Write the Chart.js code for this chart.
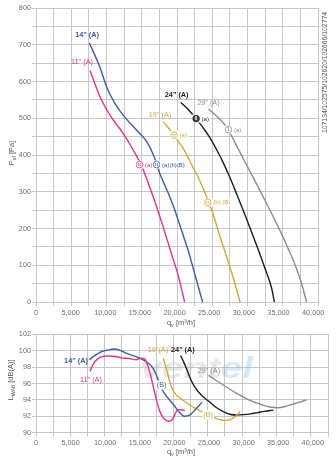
<!DOCTYPE html>
<html>
<head>
<meta charset="utf-8">
<title>Fan curves</title>
<script src="https://cdn.jsdelivr.net/npm/chart.js"></script>
<style>
    body { margin: 0; background: #fff; width: 336px; height: 459px; overflow: hidden; position: relative; }
    canvas { position: absolute; left: 0; }
    #pressureChart { top: 0; }
    #soundChart { top: 328px; }
</style>
</head>
<body>
<canvas id="pressureChart" width="336" height="328"></canvas>
<canvas id="soundChart" width="336" height="131"></canvas>

<script>
// pressure curves, q in m3/h, p in Pa
const flow11 = [7800, 9200, 10700, 12600, 14500, 15300, 16500, 17500, 18500, 19500, 20500, 21450];
const pressure11 = [630, 560, 508, 458, 398, 368, 308, 254, 196, 134, 74, 0];
const flow14 = [7700, 9200, 10200, 11400, 12600, 14500, 16000, 17000, 17900, 19000, 20000, 21000, 22000, 23000, 24050];
const pressure14 = [705, 640, 585, 540, 508, 468, 436, 398, 348, 300, 252, 195, 138, 70, 0];
const flow19 = [18400, 19500, 20500, 21500, 22500, 23500, 24500, 25500, 26500, 27500, 28500, 29450];
const pressure19 = [490, 465, 438, 410, 372, 336, 292, 242, 181, 124, 64, 0];
const flow24 = [20900, 22000, 23100, 24000, 25000, 26000, 27000, 28000, 29000, 30000, 31000, 32000, 33000, 34000, 34400];
const pressure24 = [543, 523, 499, 477, 450, 417, 380, 338, 292, 245, 196, 146, 94, 38, 0];
const flow29 = [24900, 26000, 27000, 27800, 28500, 29500, 30500, 31500, 32500, 33500, 34500, 35500, 36500, 37500, 38300, 39050];
const pressure29 = [525, 507, 488, 468, 442, 405, 369, 333, 297, 260, 222, 183, 141, 96, 52, 0];

// sound power curves, q in m3/h, L in dB(A)
const soundFlow11 = [7800, 8300, 8900, 9600, 10500, 11500, 12500, 13500, 14500, 15200, 15700, 16100, 16500, 16900, 17400, 17900, 18500, 19200, 19700, 20100, 20500, 21000, 21500];
const sound11 = [97.5, 98.4, 99.0, 99.3, 99.35, 99.3, 99.1, 99.05, 98.9, 99.1, 99.0, 98.3, 97.2, 95.8, 94.0, 92.6, 91.7, 91.4, 91.6, 92.3, 92.8, 92.8, 92.7];
const soundFlow14 = [7700, 8500, 9500, 10500, 11200, 12000, 13000, 14000, 15000, 16200, 16800, 17200, 17700, 18400, 19000, 19800, 20700, 21500, 22300, 23000, 24000];
const sound14 = [98.9, 99.4, 99.9, 100.1, 100.2, 100.1, 99.7, 99.4, 99.1, 98.5, 98.0, 97.4, 96.4, 95.0, 94.3, 93.5, 92.5, 92.0, 92.2, 92.8, 93.7];
const soundFlow19 = [18400, 18700, 19000, 19400, 20000, 21000, 22000, 23000, 23700, 24500, 25500, 26500, 27500, 28300, 29000, 29500];
const sound19 = [99.1, 98.2, 97.3, 96.0, 94.9, 94.1, 93.5, 93.0, 92.7, 92.3, 91.9, 91.6, 91.5, 91.7, 92.1, 92.6];
const soundFlow24 = [20900, 21300, 21800, 22300, 23000, 24000, 25000, 26000, 27000, 28000, 29000, 30000, 31000, 32000, 33000, 34300];
const sound24 = [99.4, 98.7, 97.7, 96.6, 95.5, 94.5, 93.8, 93.1, 92.6, 92.25, 92.15, 92.2, 92.3, 92.45, 92.6, 92.75];
const soundFlow29 = [24900, 26000, 27000, 28000, 29000, 30000, 31000, 32000, 33000, 34000, 35000, 36000, 37000, 38000, 39100];
const sound29 = [97.0, 96.4, 95.85, 95.3, 94.8, 94.35, 93.9, 93.6, 93.3, 93.1, 93.05, 93.2, 93.45, 93.7, 94.0];

const flowTicks = [0, 5000, 10000, 15000, 20000, 25000, 30000, 35000, 40000];
const pressureTicks = [0, 100, 200, 300, 400, 500, 600, 700, 800];
const soundTicks = [90, 92, 94, 96, 98, 100, 102];

const BLUE = '#3c5aa6', PINK = '#e6338a', GOLD = '#d5a638', BLACK = '#1c1c1c', GRAY = '#8c8c8c';
const GRID = '#c6c6c6', TICK = '#6e6e6e';
const FAMILY = '"Liberation Sans", Arial, sans-serif';

// curve names in the pressure chart (q, Pa)
const pressureNames = [
    { text: '14" (A)', q: 7365, v: 726, color: BLUE, bold: true },
    { text: '11" (A)', q: 6640, v: 652, color: PINK },
    { text: '24" (A)', q: 20300, v: 563, color: BLACK, bold: true },
    { text: '29" (A)', q: 24880, v: 542, color: GRAY },
    { text: '19" (A)', q: 17900, v: 510, color: GOLD }
];
// operating point markers (q, Pa)
const pressureMarks = [
    { num: '6', tail: '(a)', q: 23105, v: 499, color: BLACK, filled: true },
    { num: '1', tail: '(a)', q: 27770, v: 469, color: GRAY },
    { num: '11', tail: '(a)', q: 19930, v: 454, color: GOLD },
    { num: '12', tail: '(a)', q: 14950, v: 374, color: PINK },
    { num: '11', tail: '(a)(b)(B)', q: 17400, v: 374, color: BLUE },
    { num: '11', tail: '(b) (B)', q: 24795, v: 271, color: GOLD }
];
// curve names in the sound chart (q, dB)
const soundNames = [
    { text: '14" (A)', q: 5776, v: 98.74, color: BLUE, bold: true },
    { text: '11" (A)', q: 7942, v: 96.43, color: PINK },
    { text: '(B)', q: 18152, v: 95.82, color: BLUE, bg: true },
    { text: '19"(A)', q: 17617, v: 100.09, color: GOLD },
    { text: '24" (A)', q: 21227, v: 100.09, color: BLACK, bold: true },
    { text: '29" (A)', q: 24982, v: 97.52, color: GRAY },
    { text: '(B)', q: 24880, v: 92.16, color: GOLD, bg: true }
];

function font(size, bold) {
    return (bold ? 'bold ' : '') + size + 'px ' + FAMILY;
}

function points(xs, ys) {
    return xs.map((x, i) => ({ x: x, y: ys[i] }));
}

function curve(xs, ys, color) {
    return {
        data: points(xs, ys),
        showLine: true,
        borderColor: color,
        borderWidth: 1.4,
        pointRadius: 0,
        cubicInterpolationMode: 'monotone'
    };
}

function thousands(v) {
    return String(v).replace(/\B(?=(\d{3})+(?!\d))/g, ',');
}

// text with subscripts, centred on x/y
function richText(ctx, parts, x, y, angle, size, color) {
    ctx.save();
    ctx.translate(x, y);
    ctx.rotate(angle);
    ctx.fillStyle = color;
    ctx.textBaseline = 'middle';
    ctx.textAlign = 'left';
    let total = 0;
    parts.forEach(p => {
        ctx.font = font(p.sub ? size * 0.72 : size);
        total += ctx.measureText(p.t).width;
    });
    let cx = -total / 2;
    parts.forEach(p => {
        ctx.font = font(p.sub ? size * 0.72 : size);
        ctx.fillText(p.t, cx, p.sub ? size * 0.3 : 0);
        cx += ctx.measureText(p.t).width;
    });
    ctx.restore();
}

// x tick labels every 5,000 (grid every 2,500)
function flowLabels(chart) {
    const ctx = chart.ctx, xs = chart.scales.x;
    const y = chart.chartArea.bottom + 7;
    ctx.save();
    ctx.font = font(7.3);
    ctx.fillStyle = TICK;
    ctx.textAlign = 'center';
    ctx.textBaseline = 'top';
    flowTicks.forEach(v => ctx.fillText(thousands(v), xs.getPixelForValue(v), y));
    ctx.restore();
}

function nameLabel(ctx, item, x, y) {
    ctx.font = font(7.3, item.bold);
    const w = ctx.measureText(item.text).width;
    if (item.bg) {
        ctx.fillStyle = '#fff';
        ctx.fillRect(x - w / 2 - 1, y - 4.5, w + 2, 9);
    }
    ctx.fillStyle = item.color;
    ctx.textAlign = 'center';
    ctx.textBaseline = 'middle';
    ctx.fillText(item.text, x, y);
}

function markLabel(ctx, m, x, y) {
    ctx.font = font(6);
    const tw = ctx.measureText(m.tail).width;
    ctx.fillStyle = '#fff';
    ctx.fillRect(x - 4, y - 4, tw + 11, 8);
    ctx.beginPath();
    ctx.arc(x, y, 3.3, 0, Math.PI * 2);
    ctx.fillStyle = m.filled ? '#444' : '#fff';
    ctx.fill();
    ctx.lineWidth = 0.8;
    ctx.strokeStyle = m.color;
    ctx.stroke();
    ctx.fillStyle = m.filled ? '#fff' : m.color;
    ctx.font = font(m.num.length > 1 ? 3.8 : 4.6, true);
    ctx.textAlign = 'center';
    ctx.textBaseline = 'middle';
    ctx.fillText(m.num, x, y + 0.3);
    ctx.font = font(6);
    ctx.fillStyle = m.color;
    ctx.textAlign = 'left';
    ctx.fillText(m.tail, x + 5.5, y + 0.3);
}

function flowAxis(max, height) {
    return {
        type: 'linear',
        min: 0,
        max: max,
        ticks: { stepSize: 2500, includeBounds: false, display: false },
        grid: { color: GRID, lineWidth: 1, tickLength: 4 },
        border: { color: GRID },
        afterFit: s => { s.height = height; }
    };
}

function valueAxis(min, max, step, list) {
    return {
        type: 'linear',
        min: min,
        max: max,
        ticks: {
            stepSize: step,
            autoSkip: false,
            padding: 1,
            color: TICK,
            font: { family: FAMILY, size: 7.3 },
            callback: v => list.includes(v) ? v : ''
        },
        grid: { color: GRID, lineWidth: 1, tickLength: 4 },
        border: { color: GRID },
        afterFit: s => { s.width = 36; }
    };
}

const baseOptions = {
    responsive: false,
    animation: false,
    plugins: { legend: { display: false }, tooltip: { enabled: false } }
};

const qTitle = [{ t: 'q' }, { t: 'v', sub: true }, { t: ' [m³/h]' }];

new Chart(document.getElementById('pressureChart'), {
    type: 'scatter',
    data: {
        datasets: [
            curve(flow11, pressure11, PINK),
            curve(flow14, pressure14, BLUE),
            curve(flow19, pressure19, GOLD),
            curve(flow24, pressure24, BLACK),
            curve(flow29, pressure29, GRAY)
        ]
    },
    options: Object.assign({}, baseOptions, {
        layout: { padding: { left: 0, right: 18, top: 8, bottom: 0 } },
        scales: {
            x: flowAxis(40700, 26),
            y: valueAxis(0, 800, 50, pressureTicks)
        }
    }),
    plugins: [{
        id: 'pressureText',
        afterDatasetsDraw(chart) {
            const ctx = chart.ctx, xs = chart.scales.x, ys = chart.scales.y;
            ctx.save();
            pressureNames.forEach(n => nameLabel(ctx, n, xs.getPixelForValue(n.q), ys.getPixelForValue(n.v)));
            pressureMarks.forEach(m => markLabel(ctx, m, xs.getPixelForValue(m.q), ys.getPixelForValue(m.v)));
            flowLabels(chart);
            richText(ctx, qTitle, 181, 323, 0, 7.5, '#555');
            richText(ctx, [{ t: 'P' }, { t: 'sf', sub: true }, { t: ' [Pa]' }], 12, 153, -Math.PI / 2, 7.5, '#555');
            richText(ctx, [{ t: '107134/102575/102620/102666/102774' }], 325, 72.5, -Math.PI / 2, 6.8, '#555');
            ctx.restore();
        }
    }]
});

new Chart(document.getElementById('soundChart'), {
    type: 'scatter',
    data: {
        datasets: [
            curve(soundFlow11, sound11, PINK),
            curve(soundFlow14, sound14, BLUE),
            curve(soundFlow19, sound19, GOLD),
            curve(soundFlow24, sound24, BLACK),
            curve(soundFlow29, sound29, GRAY)
        ]
    },
    options: Object.assign({}, baseOptions, {
        layout: { padding: { left: 0, right: 8, top: 6.3, bottom: 0 } },
        scales: {
            x: flowAxis(42200, 26.3),
            y: valueAxis(90, 102, 2, soundTicks)
        }
    }),
    plugins: [{
        id: 'soundText',
        beforeDatasetsDraw(chart) {
            // faint watermark behind the curves
            const ctx = chart.ctx;
            ctx.save();
            ctx.translate(140, 50);
            ctx.scale(1.35, 1);
            ctx.font = 'italic bold 29px ' + FAMILY;
            ctx.textBaseline = 'alphabetic';
            ctx.textAlign = 'left';
            ctx.fillStyle = 'rgba(190,190,190,0.35)';
            ctx.fillText('vent', 0, 0);
            const w = ctx.measureText('vent').width;
            ctx.fillStyle = 'rgba(120,180,225,0.3)';
            ctx.fillText('el', w, 0);
            ctx.restore();
        },
        afterDatasetsDraw(chart) {
            const ctx = chart.ctx, xs = chart.scales.x, ys = chart.scales.y;
            ctx.save();
            soundNames.forEach(n => nameLabel(ctx, n, xs.getPixelForValue(n.q), ys.getPixelForValue(n.v)));
            flowLabels(chart);
            richText(ctx, qTitle, 181, 124, 0, 7.5, '#555');
            richText(ctx, [{ t: 'L' }, { t: 'WA6', sub: true }, { t: ' [dB(A)]' }], 11, 52, -Math.PI / 2, 7.5, '#555');
            ctx.restore();
        }
    }]
});
</script>
</body>
</html>
